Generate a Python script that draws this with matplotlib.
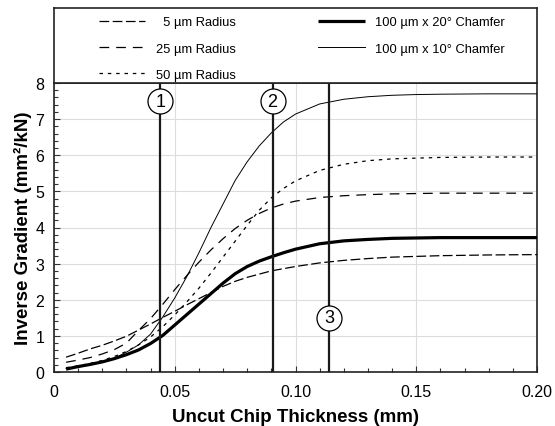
import matplotlib
matplotlib.use("Agg")
import matplotlib.pyplot as plt
from matplotlib.lines import Line2D
from matplotlib.ticker import MultipleLocator, FixedLocator, FixedFormatter

plt.rcParams['font.family'] = ['Liberation Sans', 'DejaVu Sans']
plt.rcParams['lines.scale_dashes'] = False

# uncut chip thickness (mm)
h = [0.005, 0.01, 0.015, 0.02, 0.025, 0.03, 0.035, 0.04, 0.045, 0.05,
     0.055, 0.06, 0.065, 0.07, 0.075, 0.08, 0.085, 0.09, 0.095, 0.10,
     0.11, 0.12, 0.13, 0.14, 0.15, 0.16, 0.18, 0.20]

# inverse gradient (mm^2/kN) for each edge geometry
r5 = [0.41, 0.52, 0.64, 0.74, 0.86, 0.99, 1.16, 1.33, 1.51, 1.68,
      1.86, 2.03, 2.20, 2.37, 2.51, 2.62, 2.71, 2.80, 2.86, 2.92,
      3.02, 3.09, 3.14, 3.18, 3.20, 3.22, 3.24, 3.25]
r25 = [0.27, 0.33, 0.40, 0.50, 0.62, 0.80, 1.15, 1.48, 1.87, 2.28,
       2.67, 3.04, 3.38, 3.69, 3.97, 4.20, 4.39, 4.54, 4.65, 4.73,
       4.83, 4.88, 4.91, 4.93, 4.94, 4.95, 4.95, 4.95]
r50 = [0.12, 0.17, 0.24, 0.32, 0.43, 0.57, 0.75, 0.97, 1.25, 1.58,
       1.94, 2.32, 2.74, 3.18, 3.62, 4.06, 4.48, 4.82, 5.08, 5.29,
       5.58, 5.75, 5.85, 5.90, 5.92, 5.94, 5.95, 5.95]
ch20 = [0.08, 0.15, 0.21, 0.28, 0.37, 0.48, 0.61, 0.79, 1.01, 1.30,
        1.59, 1.88, 2.17, 2.46, 2.72, 2.92, 3.07, 3.19, 3.30, 3.40,
        3.55, 3.63, 3.67, 3.70, 3.71, 3.72, 3.72, 3.72]
ch10 = [0.10, 0.14, 0.20, 0.28, 0.38, 0.55, 0.75, 1.05, 1.52, 2.05,
        2.64, 3.30, 4.00, 4.65, 5.30, 5.82, 6.26, 6.62, 6.92, 7.14,
        7.42, 7.55, 7.62, 7.66, 7.68, 7.69, 7.70, 7.70]

labels = ['  5 µm Radius', '25 µm Radius', '50 µm Radius',
          '100 µm x 20° Chamfer', '100 µm x 10° Chamfer']

# marked thickness values and where their numbered circles sit
mark_x = [0.044, 0.0905, 0.114]
mark_y = [7.5, 7.5, 1.5]
mark_txt = ['1', '2', '3']

xticks = [0, 0.05, 0.10, 0.15, 0.20]
xtick_labels = ['0', '0.05', '0.10', '0.15', '0.20']

W, H = 555, 427
fig = plt.figure(figsize=(W / 100, H / 100), dpi=100)
ax = fig.add_axes([54 / W, 1 - 373 / H, 483 / W, 289 / H])
lax = fig.add_axes([54 / W, 1 - 84 / H, 483 / W, 75 / H])

styles = [
    dict(color='black', lw=0.9, dashes=(7, 2.5)),
    dict(color='black', lw=0.9, dashes=(7, 5)),
    dict(color='black', lw=0.9, dashes=(2.5, 3.5)),
    dict(color='black', lw=2.3, solid_capstyle='butt'),
    dict(color='black', lw=0.7),
]
series = [r5, r25, r50, ch20, ch10]

for y, st in zip(series, styles):
    ax.plot(h, y, **st, zorder=3)

for x, y, t in zip(mark_x, mark_y, mark_txt):
    ax.axvline(x, color='#1a1a1a', lw=1.6, zorder=4)
    ax.plot(x, y, 'o', ms=18, mfc='white', mec='black', mew=0.9, zorder=5)
    ax.text(x, y, t, ha='center', va='center', fontsize=13, zorder=6)

ax.set_xlim(0, 0.20)
ax.set_ylim(0, 8)
ax.xaxis.set_major_locator(FixedLocator(xticks))
ax.xaxis.set_major_formatter(FixedFormatter(xtick_labels))
ax.xaxis.set_minor_locator(MultipleLocator(0.01))
ax.yaxis.set_major_locator(MultipleLocator(1))
ax.yaxis.set_minor_locator(MultipleLocator(0.2))
ax.tick_params(which='both', direction='in', color='#333333', width=0.8,
               labelsize=11.5, top=False, right=False)
ax.tick_params(which='major', length=4)
ax.tick_params(which='minor', length=3)
ax.tick_params(axis='x', pad=9)
ax.tick_params(axis='y', pad=7)
ax.grid(True, which='major', color='#dddddd', lw=0.8, zorder=0)
for s in ax.spines.values():
    s.set_color('#222222')
    s.set_linewidth(1.2)

ax.set_xlabel('Uncut Chip Thickness (mm)', fontsize=13.5, fontweight='bold', labelpad=6)
ax.set_ylabel('Inverse Gradient (mm²/kN)', fontsize=13.5, fontweight='bold', labelpad=2)

# legend panel above the plot
lax.set_xticks([])
lax.set_yticks([])
for s in lax.spines.values():
    s.set_color('#222222')
    s.set_linewidth(1.2)
handles = [Line2D([], [], **st) for st in styles]
lax.legend(handles, labels, ncol=2, loc='upper left', bbox_to_anchor=(0.093, 0.89),
           frameon=False, fontsize=9.3, handlelength=3.6, handletextpad=0.8,
           columnspacing=6.4, labelspacing=1.1, borderpad=0, borderaxespad=0)

fig.savefig('out.png', dpi=100)
